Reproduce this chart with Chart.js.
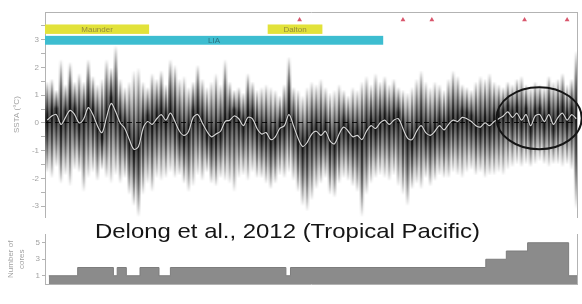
<!DOCTYPE html>
<html>
<head>
<meta charset="utf-8">
<script src="https://cdn.jsdelivr.net/npm/chart.js@4"></script>
<style>
  body { margin: 0; background: #fff; }
  #wrap { position: relative; width: 582px; height: 304px; overflow: hidden; }
  canvas { position: absolute; left: 0; }
  #main { top: 0; }
  #cores { top: 226px; }
  #caption {
    position: absolute; left: 95px; top: 220px;
    font: 21px "Liberation Sans", Arial, sans-serif; line-height: 21px;
    color: #151515; white-space: nowrap;
    transform: scaleX(1.14); transform-origin: left top;
  }
</style>
</head>
<body>
<div id="wrap">
  <canvas id="main" width="582" height="224"></canvas>
  <canvas id="cores" width="582" height="78"></canvas>
  <div id="caption">Delong et al., 2012 (Tropical Pacific)</div>
</div>
<script>
// 3-year bins of the coral SST anomaly ensemble
const years = [
  1649, 1652, 1655, 1658, 1661, 1664, 1667, 1670, 1673, 1676,
  1679, 1682, 1685, 1688, 1691, 1694, 1697, 1700, 1703, 1706,
  1709, 1712, 1715, 1718, 1721, 1724, 1727, 1730, 1733, 1736,
  1739, 1742, 1745, 1748, 1751, 1754, 1757, 1760, 1763, 1766,
  1769, 1772, 1775, 1778, 1781, 1784, 1787, 1790, 1793, 1796,
  1799, 1802, 1805, 1808, 1811, 1814, 1817, 1820, 1823, 1826,
  1829, 1832, 1835, 1838, 1841, 1844, 1847, 1850, 1853, 1856,
  1859, 1862, 1865, 1868, 1871, 1874, 1877, 1880, 1883, 1886,
  1889, 1892, 1895, 1898, 1901, 1904, 1907, 1910, 1913, 1916,
  1919, 1922, 1925, 1928, 1931, 1934, 1937, 1940, 1943, 1946,
  1949, 1952, 1955, 1958, 1961, 1964, 1967, 1970, 1973, 1976,
  1979, 1982, 1985, 1988, 1991, 1994, 1997
];

// white line (ensemble median)
const sstMedian = [
  0.1, 0.25, 0.3, -0.05, 0.2, 0.45, 0.3, 0.0, 0.15, 0.55,
  0.3, -0.1, -0.35, 0.2, 0.7, 0.4, 0.0, -0.2, -0.6, -0.95,
  -0.85, -0.2, 0.05, -0.05, 0.15, 0.3, 0.1, 0.35, 0.05, -0.3,
  -0.45, -0.3, 0.2, 0.3, 0.0, -0.3, -0.5, -0.4, -0.3, 0.05,
  0.1, 0.25, 0.15, -0.1, 0.2, 0.15, -0.2, -0.4, -0.35, -0.6,
  -0.5, -0.2, -0.1, 0.3, -0.1, -0.55, -0.85, -0.7, -0.4, -0.3,
  -0.45, -0.3, -0.65, -0.75, -0.4, -0.15, -0.3, -0.5, -0.45, -0.6,
  -0.3, -0.1, -0.2, 0.0, 0.1, -0.05, 0.1, 0.15, -0.2, -0.55,
  -0.6, -0.3, -0.1, -0.35, -0.45, -0.3, -0.1, -0.25, -0.05, 0.1,
  0.05, 0.2, 0.15, 0.05, -0.1, -0.15, 0.0, -0.1, 0.05, 0.15,
  0.25, 0.4, 0.2, 0.35, 0.1, 0.3, -0.1, 0.25, 0.3, 0.05,
  0.3, -0.05, 0.2, 0.35, 0.1, 0.3, 0.15
];

// top of the grey streaks
const sstHigh = [
  1.5, 1.6, 1.2, 2.3, 1.4, 2.2, 1.5, 1.8, 1.5, 2.3,
  1.7, 1.4, 1.6, 2.3, 2.0, 2.8, 1.6, 1.3, 1.5, 1.9,
  2.0, 1.5, 1.3, 1.8, 1.6, 1.9, 1.4, 2.3, 2.1, 1.6,
  1.7, 1.3, 1.5, 2.1, 1.6, 1.3, 1.5, 1.8, 1.4, 2.3,
  1.5, 1.2, 1.3, 1.1, 1.8, 1.5, 1.2, 1.3, 1.4, 1.3,
  1.2, 1.0, 1.4, 2.4, 1.3, 1.2, 1.0, 1.3, 1.5, 1.4,
  1.6, 1.3, 1.1, 1.2, 1.4, 1.2, 1.0, 1.3, 1.2, 1.5,
  1.7, 1.4, 1.8, 1.5, 1.7, 1.4, 1.6, 1.3, 1.2, 1.1,
  1.3, 1.6, 1.9, 1.5, 1.3, 1.5, 1.4, 1.2, 1.6, 1.9,
  1.7, 1.4, 1.3, 1.2, 1.5, 1.7, 1.6, 1.8, 1.5, 1.4,
  1.3, 1.5, 1.4, 1.6, 1.7, 1.4, 1.3, 1.5, 1.4, 1.3,
  1.7, 1.5, 1.6, 1.8, 1.4, 1.6, 2.6
];

// bottom of the grey streaks
const sstLow = [
  -1.8, -2.0, -1.6, -2.2, -1.9, -2.3, -1.7, -1.8, -2.5, -2.0,
  -1.8, -2.1, -1.7, -2.0, -2.2, -1.9, -2.2, -2.0, -2.6, -3.0,
  -3.4, -2.6, -2.2, -2.5, -2.0, -2.1, -2.0, -1.8, -2.0, -1.9,
  -2.2, -2.5, -2.3, -1.9, -2.1, -1.8, -2.2, -2.3, -2.0, -2.1,
  -2.2, -2.5, -2.0, -1.9, -2.1, -1.8, -2.0, -2.0, -2.2, -2.4,
  -2.2, -1.9, -2.0, -1.8, -2.1, -2.5, -3.0, -3.2, -2.8, -2.4,
  -2.2, -2.0, -2.6, -2.7, -2.2, -2.0, -2.1, -2.3, -2.5, -3.4,
  -2.6, -2.2, -2.0, -1.9, -2.0, -2.1, -1.9, -2.3, -2.6, -3.0,
  -2.4, -2.2, -2.4, -2.0, -2.3, -2.1, -1.9, -2.0, -2.0, -1.8,
  -1.9, -2.0, -1.8, -1.7, -1.9, -1.8, -2.0, -1.9, -1.9, -1.8,
  -1.9, -1.7, -1.6, -1.5, -1.6, -1.5, -1.6, -1.5, -1.4, -1.5,
  -1.6, -1.5, -1.5, -1.6, -1.5, -1.7, -3.1
];

// volcanic eruptions (red triangles)
const eruptionYears = [1815, 1883, 1902, 1963, 1991];

// shaded periods at the top
const periodNames = ["Maunder", "Dalton", "LIA"];
const periodStart = [1645, 1794, 1645];
const periodEnd = [1716, 1830, 1870];

// number of cores (stepped histogram)
const coreEdges = [1650, 1669, 1692.5, 1695, 1701, 1710, 1722.5, 1730, 1806, 1809, 1937.5, 1951, 1965, 1992, 1997.5];
const coreCounts = [1, 2, 1, 2, 1, 2, 1, 2, 1, 2, 3, 4, 5, 1, 1];

const X_MIN = 1647.5;
const X_MAX = 1997.5;
const axisGrey = "#b3b3b3";
const labelGrey = "#a2a2a2";

Chart.defaults.font.family = '"Liberation Sans", Arial, sans-serif';

// vertical density look: dark round the median, fading out to the streak ends
function streakFill(alphas) {
  return function (context) {
    const chart = context.chart;
    const ys = chart.scales.y;
    const i = context.dataIndex;
    if (!chart.chartArea || !ys || i === undefined) return "rgba(0,0,0,0.3)";
    const top = ys.getPixelForValue(sstHigh[i]);
    const bot = ys.getPixelForValue(sstLow[i]);
    const mid = ys.getPixelForValue(sstMedian[i]);
    const span = bot - top;
    const up = mid - top;
    const down = bot - mid;
    const at = (p) => Math.min(1, Math.max(0, (p - top) / span));
    const [outer, middle, inner, core] = alphas;
    const g = chart.ctx.createLinearGradient(0, top, 0, bot);
    g.addColorStop(0, "rgba(0,0,0,0)");
    g.addColorStop(at(top + up * 0.3), `rgba(0,0,0,${outer})`);
    g.addColorStop(at(top + up * 0.62), `rgba(0,0,0,${middle})`);
    g.addColorStop(at(mid - 6), `rgba(0,0,0,${inner})`);
    g.addColorStop(at(mid), `rgba(0,0,0,${core})`);
    g.addColorStop(at(mid + 6), `rgba(0,0,0,${inner})`);
    g.addColorStop(at(bot - down * 0.62), `rgba(0,0,0,${middle})`);
    g.addColorStop(at(bot - down * 0.3), `rgba(0,0,0,${outer})`);
    g.addColorStop(1, "rgba(0,0,0,0)");
    return g;
  };
}

// period bars, labels and the circled recent part
const overlays = {
  id: "overlays",
  afterDatasetsDraw(chart) {
    const { ctx, chartArea, scales } = chart;
    const x = scales.x;
    const y = scales.y;
    const bands = [[3.55, 3.21], [3.14, 2.82]];
    const looks = [
      { band: 0, fill: "#e2e23a", text: "#938c3c" },
      { band: 0, fill: "#e2e23a", text: "#938c3c" },
      { band: 1, fill: "#3dbdd0", text: "#2c7280" },
    ];
    ctx.save();
    periodNames.forEach((name, i) => {
      const look = looks[i];
      const x0 = Math.max(chartArea.left, x.getPixelForValue(periodStart[i]));
      const x1 = Math.min(chartArea.right, x.getPixelForValue(periodEnd[i]));
      const y0 = y.getPixelForValue(bands[look.band][0]);
      const y1 = y.getPixelForValue(bands[look.band][1]);
      ctx.fillStyle = look.fill;
      ctx.fillRect(x0, y0, x1 - x0, y1 - y0);
      ctx.fillStyle = look.text;
      ctx.font = '8px "Liberation Sans", Arial, sans-serif';
      ctx.textAlign = "center";
      ctx.textBaseline = "middle";
      ctx.fillText(name, (x0 + x1) / 2, (y0 + y1) / 2 + 0.5);
    });
    ctx.restore();
  },
  afterDraw(chart) {
    const { ctx, scales } = chart;
    const x = scales.x;
    const y = scales.y;
    const cx = x.getPixelForValue(1972.6);
    const cy = y.getPixelForValue(0.17);
    const rx = x.getPixelForValue(1972.6 + 28) - cx;
    const ry = cy - y.getPixelForValue(0.17 + 1.12);
    ctx.save();
    ctx.strokeStyle = "#151515";
    ctx.lineWidth = 2;
    ctx.beginPath();
    ctx.ellipse(cx, cy, rx, ry, 0, 0, Math.PI * 2);
    ctx.stroke();
    ctx.restore();
  },
};

const medianPoints = years.map((yr, i) => ({ x: yr, y: sstMedian[i] }));
const spreadBars = years.map((yr, i) => ({ x: yr, y: [sstLow[i], sstHigh[i]] }));

new Chart(document.getElementById("main"), {
  type: "bar",
  data: {
    datasets: [
      {
        type: "bar",
        data: spreadBars,
        backgroundColor: streakFill([0.15, 0.42, 0.64, 0.7]),
        borderWidth: 0,
        barPercentage: 1.05,
        categoryPercentage: 1,
        grouped: false,
        order: 5,
      },
      {
        type: "bar",
        data: spreadBars,
        backgroundColor: streakFill([0.3, 0.52, 0.7, 0.8]),
        borderWidth: 0,
        barPercentage: 0.45,
        categoryPercentage: 1,
        grouped: false,
        order: 4,
      },
      {
        type: "line",
        data: medianPoints,
        borderColor: "rgba(20,20,20,0.45)",
        borderWidth: 2.6,
        pointRadius: 0,
        tension: 0.35,
        order: 3,
      },
      {
        type: "line",
        data: medianPoints,
        borderColor: "rgba(230,230,230,0.9)",
        borderWidth: 1.2,
        pointRadius: 0,
        tension: 0.35,
        order: 2,
      },
      {
        type: "scatter",
        data: eruptionYears.map((yr) => ({ x: yr, y: 3.72 })),
        pointStyle: "triangle",
        pointRadius: 2.8,
        backgroundColor: "#d9566c",
        borderWidth: 0,
        order: 1,
      },
    ],
  },
  options: {
    responsive: false,
    animation: false,
    layout: { padding: { top: 12, bottom: 3, left: 0, right: 0 } },
    plugins: { legend: { display: false }, tooltip: { enabled: false } },
    scales: {
      x: {
        type: "linear",
        position: "top",
        min: X_MIN,
        max: X_MAX,
        offset: false,
        ticks: { display: false },
        grid: { display: false, drawTicks: false, offset: false },
        border: { display: true, color: axisGrey },
        afterFit: (s) => { s.height = 0; },
      },
      y: {
        position: "left",
        min: -3.4,
        max: 4.0,
        afterBuildTicks: (s) => {
          s.ticks = s.ticks.filter((t) => Math.abs(t.value * 2 - Math.round(t.value * 2)) < 1e-6 && t.value >= -3 && t.value <= 3.5);
        },
        ticks: {
          stepSize: 0.5,
          autoSkip: false,
          color: labelGrey,
          font: { size: 8 },
          padding: 2,
          callback: (v) => (Number.isInteger(v) ? String(v) : ""),
        },
        grid: {
          drawOnChartArea: true,
          color: (c) => (c.tick && c.tick.value === 0 ? "rgba(0,0,0,0.85)" : "rgba(0,0,0,0)"),
          tickColor: axisGrey,
          tickLength: 4,
        },
        border: { color: axisGrey, dash: [5, 4] },
        title: {
          display: true,
          text: "SSTA (°C)",
          color: labelGrey,
          font: { size: 8 },
          padding: { top: 12, bottom: 0 },
        },
        afterFit: (s) => { s.width = 45; },
      },
      yR: {
        position: "right",
        min: -3.4,
        max: 4.0,
        ticks: { display: false },
        grid: { display: false },
        border: { color: axisGrey },
        afterFit: (s) => { s.width = 5; },
      },
    },
  },
  plugins: [overlays],
});

// decade ticks pointing up into the histogram
const innerTicks = {
  id: "innerTicks",
  afterDatasetsDraw(chart) {
    const { ctx, chartArea, scales } = chart;
    ctx.save();
    ctx.strokeStyle = "rgba(70,70,70,0.75)";
    ctx.lineWidth = 1;
    scales.x.ticks.forEach((t) => {
      const px = Math.round(scales.x.getPixelForValue(t.value)) + 0.5;
      ctx.beginPath();
      ctx.moveTo(px, chartArea.bottom);
      ctx.lineTo(px, chartArea.bottom - 5);
      ctx.stroke();
    });
    ctx.restore();
  },
};

new Chart(document.getElementById("cores"), {
  type: "line",
  data: {
    datasets: [
      {
        data: coreEdges.map((yr, i) => ({ x: yr, y: coreCounts[i] })),
        stepped: "before",
        fill: "origin",
        backgroundColor: "#8b8b8b",
        borderColor: "#7d7d7d",
        borderWidth: 1,
        pointRadius: 0,
      },
    ],
  },
  options: {
    responsive: false,
    animation: false,
    layout: { padding: { top: 8.5, bottom: 0, left: 0, right: 0 } },
    plugins: { legend: { display: false }, tooltip: { enabled: false } },
    scales: {
      x: {
        type: "linear",
        min: X_MIN,
        max: X_MAX,
        afterBuildTicks: (s) => {
          s.ticks = s.ticks.filter((t) => t.value % 10 === 0);
        },
        ticks: {
          stepSize: 10,
          autoSkip: false,
          maxRotation: 0,
          color: labelGrey,
          font: { size: 8 },
          padding: 5,
          callback: (v) => (v % 40 === 20 ? String(v) : ""),
        },
        grid: { display: true, drawOnChartArea: false, drawTicks: false },
        border: { color: axisGrey },
        afterFit: (s) => { s.height = 20; },
      },
      y: {
        min: 0,
        max: 6,
        afterBuildTicks: (s) => {
          s.ticks = s.ticks.filter((t) => t.value > 0 && t.value < 6);
        },
        ticks: {
          stepSize: 1,
          color: labelGrey,
          font: { size: 8 },
          padding: 2,
          callback: (v) => (v % 2 === 1 ? String(v) : ""),
        },
        grid: { drawOnChartArea: false, tickLength: 3, tickColor: axisGrey },
        border: { color: axisGrey },
        title: {
          display: true,
          text: ["Number of", "cores"],
          color: labelGrey,
          font: { size: 8, lineHeight: 1.35 },
          padding: { top: 5.6, bottom: 0 },
        },
        afterFit: (s) => { s.width = 45; },
      },
      yR: {
        position: "right",
        min: 0,
        max: 6,
        ticks: { display: false },
        grid: { display: false },
        border: { color: axisGrey },
        afterFit: (s) => { s.width = 5; },
      },
    },
  },
  plugins: [innerTicks],
});
</script>
</body>
</html>
